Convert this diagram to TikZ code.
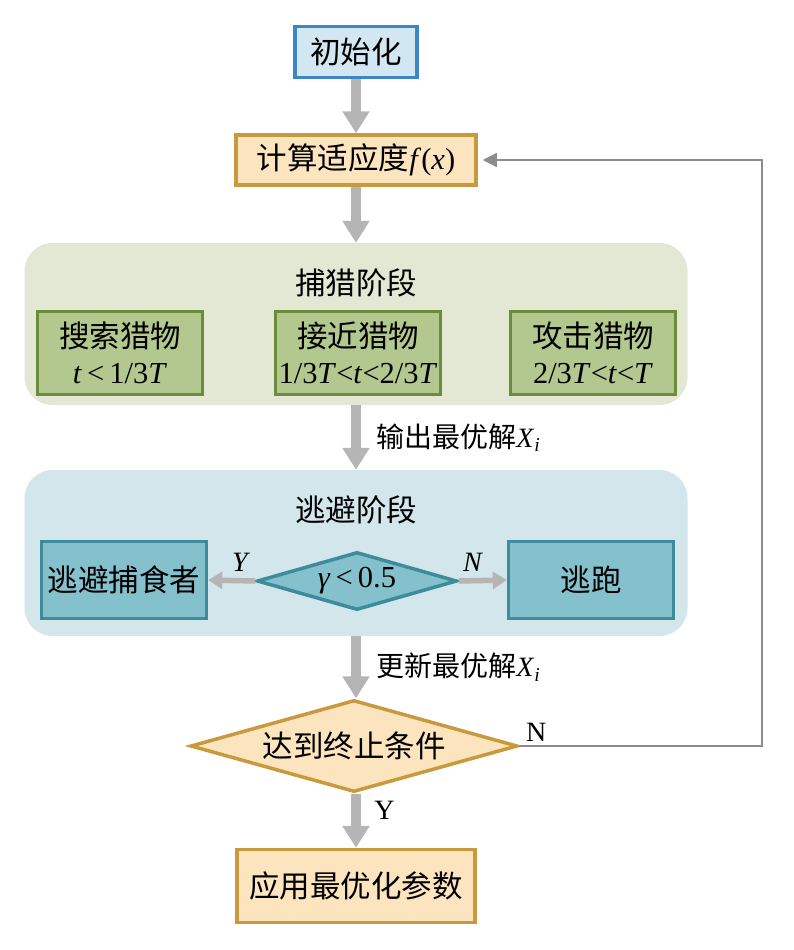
\documentclass[tikz,border=0pt]{standalone}
\usepackage{fontspec}
\setmainfont{Liberation Serif}
\newfontfamily\cjk{Noto Sans CJK SC}
\usetikzlibrary{shapes.geometric,arrows.meta,positioning}
\definecolor{blufill}{HTML}{D3E7F2}
\definecolor{bluline}{HTML}{3C86C6}
\definecolor{orgfill}{HTML}{FCE5BE}
\definecolor{orgline}{HTML}{C9993D}
\definecolor{grnpanel}{HTML}{E3E8D5}
\definecolor{grnfill}{HTML}{B3C88F}
\definecolor{grnline}{HTML}{6C8C3C}
\definecolor{tealpanel}{HTML}{D3E6EC}
\definecolor{tealfill}{HTML}{85C1CD}
\definecolor{tealline}{HTML}{3D8C9C}
\definecolor{arrgray}{HTML}{B5B5B5}
\definecolor{loopgray}{HTML}{8C8C8C}
\newcommand{\zh}[1]{{\cjk #1}}

\begin{document}
\begin{tikzpicture}[x=1pt,y=-1pt,
	font=\fontsize{30.5}{36}\selectfont,
	base/.style={draw,line width=3.5pt,inner sep=0pt,align=center},
	blubox/.style={base,fill=blufill,draw=bluline},
	orgbox/.style={base,fill=orgfill,draw=orgline},
	grnbox/.style={base,fill=grnfill,draw=grnline,minimum width=165pt,minimum height=83pt},
	tealbox/.style={base,fill=tealfill,draw=tealline,minimum width=165pt,minimum height=77pt},
	orgdia/.style={orgbox,diamond,aspect=3.5},
	tealdia/.style={base,fill=tealfill,draw=tealline,diamond,aspect=3.4},
	panel/.style={rounded corners=28pt,minimum width=663pt,inner sep=0pt},
	fat/.style={line width=10pt,draw=arrgray,-{Triangle[width=26pt,length=22pt]}},
	slim/.style={line width=5.5pt,draw=arrgray,-{Triangle[width=17pt,length=14pt]}},
	lbl/.style={font=\fontsize{28}{32}\selectfont}]
	\useasboundingbox (0,0) rectangle (794,950);
	\node[blubox,minimum width=122pt,minimum height=51pt] (init) at (356,52) {\zh{初始化}};
	\node[orgbox,minimum width=240pt,minimum height=50pt] (fit) at (356,160) {\zh{计算适应度}\textit{f}(\textit{x})};
	\node[panel,fill=grnpanel,minimum height=162pt] (hunt) at (356,324) {};
	\node (huntlbl) at (356,283) {\zh{捕猎阶段}};
	\node[grnbox] (search) at (120,353) {\zh{搜索猎物}\\\textit{t}\,<\,1/3\textit{T}};
	\node[grnbox] (approach) at (358,353) {\zh{接近猎物}\\1/3\textit{T}<\textit{t}<2/3\textit{T}};
	\node[grnbox] (attack) at (593,353) {\zh{攻击猎物}\\2/3\textit{T}<\textit{t}<\textit{T}};
	\node[panel,fill=tealpanel,minimum height=166pt] (escape) at (356,553) {};
	\node (escapelbl) at (356,510) {\zh{逃避阶段}};
	\node[tealbox] (avoid) at (124,580) {\zh{逃避捕食者}};
	\node[tealbox] (run) at (591,580) {\zh{逃跑}};
	\node[tealdia,minimum width=200pt,minimum height=58pt] (gamma) at (357,581) {\textit{γ}\,<\,0.5};
	\node[orgdia,minimum width=327pt,minimum height=92pt] (stop) at (354,746) {\zh{达到终止条件}};
	\node[orgbox,minimum width=238pt,minimum height=73pt] (apply) at (356,886) {\zh{应用最优化参数}};
	\coordinate (loop) at (762,746);

	\draw[fat] (init) -- (fit);
	\draw[fat] (fit) -- (hunt);
	\draw[fat] (hunt) -- node[lbl,right=12pt] {\zh{输出最优解}\textit{X}\textsubscript{\textit{i}}} (escape);
	\draw[fat] (escape.south) -- node[lbl,right=12pt] {\zh{更新最优解}\textit{X}\textsubscript{\textit{i}}} (escape.south |- stop.north);
	\draw[slim] (gamma.west) -- node[lbl,pos=0.3,above=3pt] {\textit{Y}} (avoid.east);
	\draw[slim] (gamma.east) -- node[lbl,pos=0.3,above=3pt] {\textit{N}} (run.west);
	\draw[fat] (stop.south -| apply.north) -- node[lbl,pos=0.3,right=10pt] {Y} (apply.north);
	\draw[line width=1.6pt,draw=loopgray,-{Triangle[width=14pt,length=14pt]},shorten >=5pt]
		(stop.east) -- node[lbl,pos=0.07,above] {N} (loop) |- (fit.east);
\end{tikzpicture}
\end{document}
